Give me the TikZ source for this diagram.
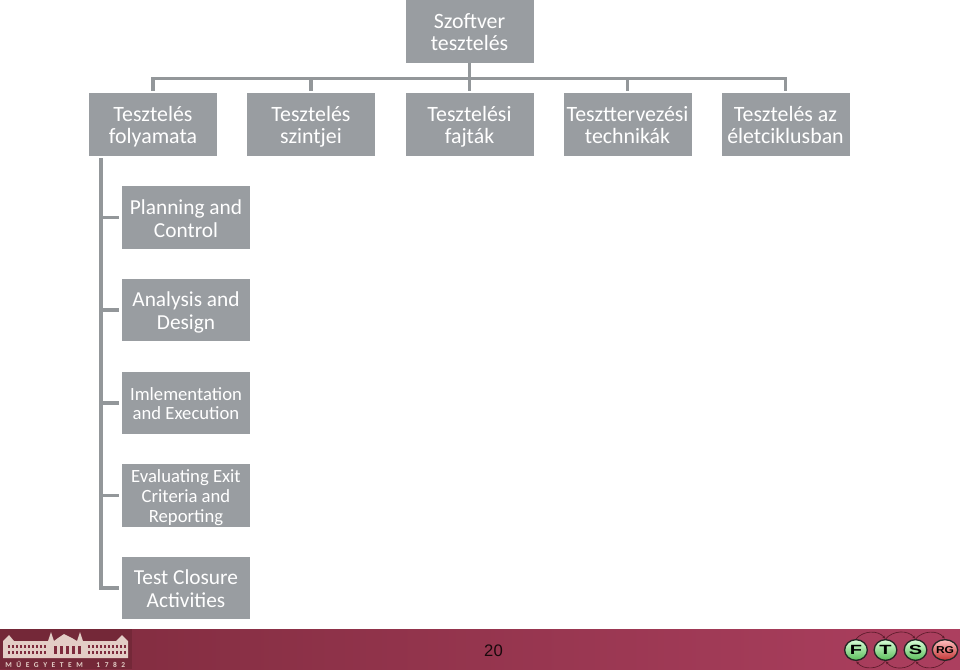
\documentclass[tikz,border=0pt]{standalone}
\usepackage{fontspec}
\usepackage{graphicx}
\setmainfont{Carlito}
\newfontfamily\arialf{Liberation Sans}
\definecolor{boxgray}{HTML}{999DA1}
\definecolor{linegray}{HTML}{93979A}
\definecolor{footL}{HTML}{7E2B3D}
\definecolor{footR}{HTML}{AC3F5F}
\definecolor{bldg}{HTML}{E3CDC6}
\definecolor{arcc}{HTML}{5E1C2C}
\usetikzlibrary{arrows.meta,shapes.geometric}
\tikzset{x=0.75pt,y=-0.75pt,
  tbox/.style={fill=boxgray,text=white,minimum width=96pt,minimum height=47pt,inner sep=0pt,align=center,font=\fontsize{16.4}{16.7}\selectfont,text height=31.4pt,text depth=2.2pt},
  lbox/.style={tbox,font=\fontsize{16}{17.25}\selectfont,text height=31.4pt,text depth=2pt},
  mbox/.style={tbox,font=\fontsize{14}{14.25}\selectfont,text height=27.4pt,text depth=2.8pt},
  nbox/.style={tbox,font=\fontsize{14}{15}\selectfont,text height=43.4pt,text depth=2.7pt},
  link/.style={draw=linegray,line width=2.4pt,shorten >=1.6pt},
  badge/.style={ellipse,minimum width=17pt,minimum height=15.5pt,inner sep=0pt,draw=black!85,line width=1pt,text=black,font=\arialf\bfseries\fontsize{10}{10}\selectfont},
  gball/.style={badge,top color=green!15!white,bottom color=green!60!black!65!white},
  rball/.style={badge,top color=red!25!white,bottom color=red!70!black!80!white,font=\arialf\bfseries\fontsize{7.5}{8}\selectfont},
  arcl/.style={draw=arcc,line width=0.5pt,-{Latex[length=2.5pt,width=2pt]}}}
\begin{document}
\begin{tikzpicture}
\useasboundingbox (0,0) rectangle (960,669);
\node[tbox] (root) at (469.5,31.5) {Szoftver\\tesztelés};
\node[tbox] (a) at (153,124.5) {Tesztelés\\folyamata};
\node[tbox] (b) at (311,124.5) {Tesztelés\\szintjei};
\node[tbox] (c) at (469.5,124.5) {Tesztelési\\fajták};
\node[tbox] (d) at (627.5,124.5) {Teszttervezési\\technikák};
\node[tbox] (e) at (785.5,124.5) {Tesztelés az\\életciklusban};
\node[lbox] (s1) at (186,217.5) {Planning and\\Control};
\node[lbox] (s2) at (186,310) {Analysis and\\Design};
\node[mbox] (s3) at (186,403) {Imlementation\\and Execution};
\node[nbox] (s4) at (186,495.5) {Evaluating Exit\\Criteria and\\Reporting};
\node[lbox] (s5) at (186,588) {Test Closure\\Activities};
\coordinate (trunk) at (101,158);
\foreach \c in {a,b,c,d,e}{\draw[link] (root.south) -- ++(0,15) -| (\c.north);}
\foreach \c in {s1,s2,s3,s4,s5}{\draw[link,shorten >=2.2pt] (trunk) |- (\c.west);}
% footer
\shade[left color=footL,right color=footR] (0,629) rectangle (960,669);
\fill[footL!92!black] (0,629) rectangle (132,669);
% building
\fill[bldg] (3,641) -- (9,635) -- (14,641) -- (48,641) -- (51,632) -- (54,641) -- (58,638) -- (64,634) -- (72,638) -- (77,641) -- (80,632) -- (83,641) -- (116,641) -- (122,635) -- (128,641) -- (128,658) -- (3,658) -- cycle;
\foreach \x in {8,12,...,44,88,92,...,124}{\fill[footL] (\x,645) rectangle +(2,3); \fill[footL] (\x,651) rectangle +(2,3);}
\foreach \x in {54,60,...,78}{\fill[footL] (\x,646) rectangle +(3,8);}
\node[text=bldg,font=\bfseries\fontsize{5.6}{6}\selectfont,anchor=west,inner sep=0pt,text width=90pt] (mt) at (5,664) {M\hfill Ű\hfill E\hfill G\hfill Y\hfill E\hfill T\hfill E\hfill M\hfill\hfill\hfill 1\hfill 7\hfill 8\hfill 2};
\node[font=\arialf\fontsize{12.5}{14}\selectfont,text=black!80!footL,inner sep=0pt] (page) at (493.5,651) {20};
% logos
\node[gball] (f) at (856,650) {\scalebox{1.5}[1]{F}};
\node[gball] (t) at (885.5,650) {\scalebox{1.5}[1]{T}};
\node[gball] (s) at (915.5,650) {\scalebox{1.5}[1]{S}};
\node[rball] (rg) at (945,650) {\scalebox{1.2}[1]{RG}};
\foreach \p/\q in {f/t,t/s,s/rg}{
  \draw[arcl] (\p.north) to[out=50,in=130] (\q.north);
  \draw[arcl] (\q.south) to[out=-130,in=-50] (\p.south);}
\end{tikzpicture}
\end{document}
